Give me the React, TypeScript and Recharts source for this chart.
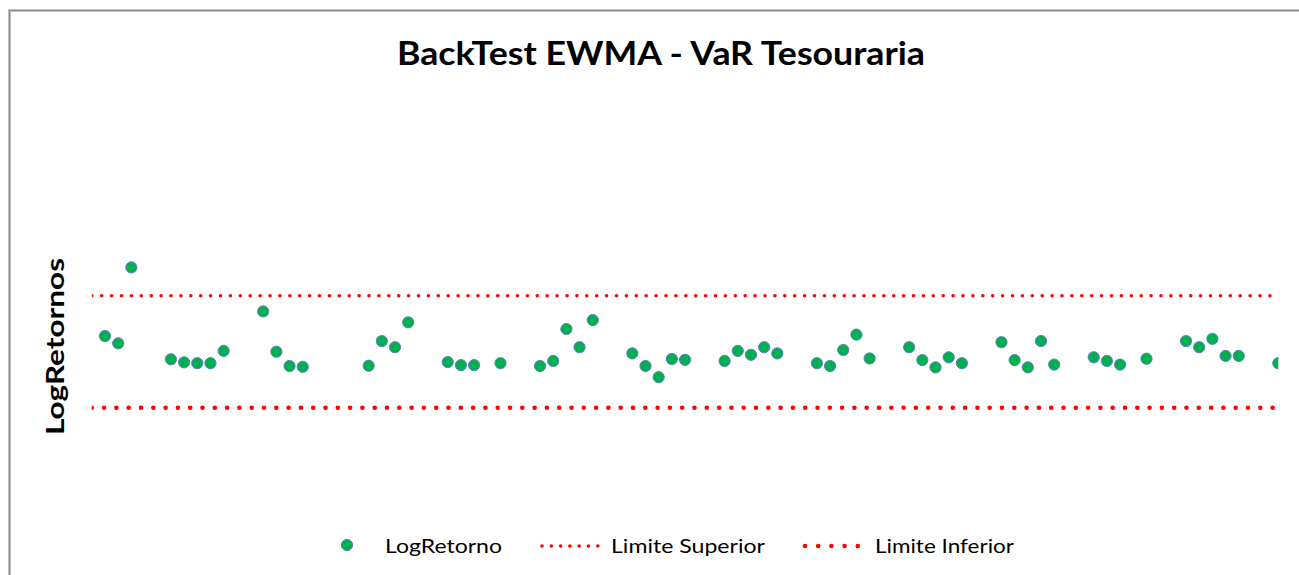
import React from "react";
import { ComposedChart, Scatter, Line, XAxis, YAxis } from "recharts";

// Trading-day offsets (calendar days from first observation)
const dias = [0, 1, 2, 5, 6, 7, 8, 9, 12, 13, 14, 15, 20, 21, 22, 23, 26, 27, 28, 30, 33, 34, 35, 36, 37, 40, 41, 42, 43, 44, 47, 48, 49, 50, 51, 54, 55, 56, 57, 58, 61, 62, 63, 64, 65, 68, 69, 70, 71, 72, 75, 76, 77, 79, 82, 83, 84, 85, 86, 89];

const logRetornos = [
  0.0056, 0.0030, 0.0301, -0.0027, -0.0038, -0.0041, -0.0041, 0.0003, 0.0144, 0.0000,
  -0.0051, -0.0054, -0.0050, 0.0038, 0.0016, 0.0105, -0.0037, -0.0048, -0.0048, -0.0041,
  -0.0051, -0.0033, 0.0081, 0.0016, 0.0113, -0.0006, -0.0051, -0.0091, -0.0026, -0.0029,
  -0.0033, 0.0003, -0.0011, 0.0016, -0.0006, -0.0041, -0.0051, 0.0006, 0.0061, -0.0024,
  0.0016, -0.0030, -0.0056, -0.0020, -0.0041, 0.0034, -0.0030, -0.0056, 0.0038, -0.0046,
  -0.0020, -0.0033, -0.0046, -0.0025, 0.0038, 0.0016, 0.0046, -0.0015, -0.0015, -0.0041,
];

const limiteSuperior = 0.02;
const limiteInferior = -0.02;
const limiteDias = [-1, 89];

const titulo = "BackTest EWMA - VaR Tesouraria";
const eixoY = "LogRetornos";
const legendas = ["LogRetorno", "Limite Superior", "Limite Inferior"];

const pontos = dias.map((d, i) => ({ dia: d, v: logRetornos[i] }));
const supData = limiteDias.map((d) => ({ dia: d, v: limiteSuperior }));
const infData = limiteDias.map((d) => ({ dia: d, v: limiteInferior }));

const W = 1299;
const H = 575;
const FONT = "Lato, 'Open Sans', sans-serif";

const Marker = (props: any) => {
  const { cx, cy } = props;
  if (cx == null || cy == null) return null;
  return <circle cx={cx} cy={cy} r={5.6} fill="#00B050" stroke="#5B7FBF" strokeWidth={1} />;
};

export default function App() {
  return (
    <div style={{ position: "absolute", left: 0, top: 0, width: W, height: H, background: "#fff", overflow: "hidden" }}>
      <ComposedChart
        width={W}
        height={H}
        margin={{ top: 100, bottom: 75, left: 91.8, right: 20.7 }}
      >
        <XAxis type="number" dataKey="dia" domain={[-1, 89]} allowDataOverflow hide />
        <YAxis type="number" dataKey="v" domain={[-0.05296, 0.08989]} allowDataOverflow hide width={0} />
        <Line
          data={supData}
          dataKey="v"
          type="linear"
          stroke="#FF0000"
          strokeWidth={3.6}
          strokeDasharray="0 9.9"
          strokeLinecap="round"
          dot={false}
          activeDot={false}
          isAnimationActive={false}
          legendType="none"
        />
        <Line
          data={infData}
          dataKey="v"
          type="linear"
          stroke="#FF0000"
          strokeWidth={4.6}
          strokeDasharray="0 12.3"
          strokeLinecap="round"
          dot={false}
          activeDot={false}
          isAnimationActive={false}
          legendType="none"
        />
        <Scatter data={pontos} dataKey="v" shape={<Marker />} isAnimationActive={false} />
      </ComposedChart>
      <svg
        width={W}
        height={H}
        style={{ position: "absolute", left: 0, top: 0, pointerEvents: "none" }}
      >
        <path d="M 9.5 580 V 10.5 H 1305" fill="none" stroke="#c4c4c4" strokeWidth={3} />
        <path d="M 9.5 580 V 10.5 H 1305" fill="none" stroke="#8f8f8f" strokeWidth={1.2} />
        <text
          x={661}
          y={65}
          textAnchor="middle"
          fontFamily={FONT}
          fontWeight={700}
          fontSize={32}
          textLength={528}
          lengthAdjust="spacingAndGlyphs"
          fill="#000"
        >
          {titulo}
        </text>
        <text
          transform="translate(64,346.5) rotate(-90)"
          textAnchor="middle"
          fontFamily={FONT}
          fontWeight={700}
          fontSize={24}
          textLength={177}
          lengthAdjust="spacingAndGlyphs"
          fill="#000"
        >
          {eixoY}
        </text>
        {/* Legend */}
        <circle cx={347} cy={545} r={5.6} fill="#00B050" stroke="#5B7FBF" strokeWidth={1} />
        <text x={385} y={553} fontFamily={FONT} fontSize={19.5} textLength={117} lengthAdjust="spacingAndGlyphs" fill="#000">
          {legendas[0]}
        </text>
        <line x1={542} y1={546} x2={598} y2={546} stroke="#FF0000" strokeWidth={3.6} strokeDasharray="0 9.3" strokeLinecap="round" />
        <text x={611} y={553} fontFamily={FONT} fontSize={19.5} textLength={154} lengthAdjust="spacingAndGlyphs" fill="#000">
          {legendas[1]}
        </text>
        <line x1={805} y1={546} x2={858} y2={546} stroke="#FF0000" strokeWidth={4.6} strokeDasharray="0 13.2" strokeLinecap="round" />
        <text x={875} y={553} fontFamily={FONT} fontSize={19.5} textLength={139} lengthAdjust="spacingAndGlyphs" fill="#000">
          {legendas[2]}
        </text>
      </svg>
    </div>
  );
}
